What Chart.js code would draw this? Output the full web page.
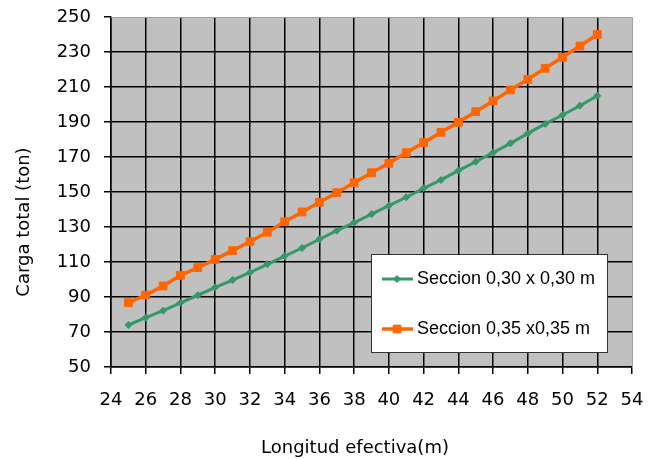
<!DOCTYPE html>
<html>
<head>
<meta charset="utf-8">
<title>Carga total vs longitud efectiva</title>
<script src="https://cdn.jsdelivr.net/npm/chart.js@4.4.0/dist/chart.umd.min.js"></script>
<style>
  html, body { margin: 0; padding: 0; background: #fff; }
</style>
</head>
<body>
<canvas id="cargaChart" width="652" height="459"></canvas>
<script>
// Longitud efectiva (m)
const lengths = [25, 26, 27, 28, 29, 30, 31, 32, 33, 34, 35, 36, 37, 38,
  39, 40, 41, 42, 43, 44, 45, 46, 47, 48, 49, 50, 51, 52];

// Carga total (ton) por seccion
const seccion30 = [74.0, 78.2, 82.2, 86.7, 91.0, 95.5, 99.7, 104.0, 108.7, 113.4,
  118.0, 123.0, 127.9, 132.5, 137.3, 142.2, 147.0, 152.1, 156.9, 162.2,
  167.3, 172.5, 177.8, 183.5, 188.9, 194.0, 199.3, 205.0];
const seccion35 = [86.7, 91.1, 96.3, 102.4, 106.8, 111.5, 116.5, 121.6, 127.0, 133.0,
  138.6, 144.1, 149.6, 155.3, 161.0, 166.4, 172.5, 178.2, 184.1, 189.8,
  195.9, 202.0, 208.3, 214.4, 220.7, 227.0, 233.4, 240.0];

const seriesNames = ["Seccion 0,30 x 0,30 m", "Seccion 0,35 x0,35 m"];

const xTicks = { min: 24, max: 54, step: 2 };
const yTicks = { min: 50, max: 250, step: 20 };

const xTitle = "Longitud efectiva(m)";
const yTitle = "Carga total (ton)";

const GREEN = "#339966";
const ORANGE = "#ff6600";
const AXIS_FONT = "DejaVu Sans";
const LEGEND_FONT = "Liberation Sans";

function toPoints(values) {
  return lengths.map((x, i) => ({ x: x, y: values[i] }));
}

// gray plot background
const plotBackground = {
  id: "plotBackground",
  beforeDraw(chart) {
    const { ctx, chartArea: a } = chart;
    ctx.save();
    ctx.fillStyle = "#c0c0c0";
    ctx.fillRect(a.left, a.top, a.right - a.left, a.bottom - a.top);
    ctx.restore();
  },
};

// light frame on the top and right side of the plot
const plotFrame = {
  id: "plotFrame",
  beforeDatasetsDraw(chart) {
    const { ctx, chartArea: a } = chart;
    ctx.save();
    ctx.strokeStyle = "#a0a0a0";
    ctx.lineWidth = 1;
    ctx.beginPath();
    ctx.moveTo(a.left, a.top + 0.5);
    ctx.lineTo(a.right + 0.5, a.top + 0.5);
    ctx.lineTo(a.right + 0.5, a.bottom);
    ctx.stroke();
    ctx.restore();
  },
};

// axis titles
const axisTitles = {
  id: "axisTitles",
  afterDraw(chart) {
    const { ctx } = chart;
    ctx.save();
    ctx.fillStyle = "#000";
    ctx.font = "18px '" + AXIS_FONT + "'";
    ctx.textAlign = "center";
    ctx.textBaseline = "alphabetic";
    ctx.fillText(xTitle, 355, 453);

    ctx.translate(29, 222);
    ctx.rotate(-Math.PI / 2);
    ctx.fillText(yTitle, 0, 0);
    ctx.restore();
  },
};

// boxed legend inside the plot area
const legendBox = {
  id: "legendBox",
  afterDraw(chart) {
    const { ctx } = chart;
    const box = { x: 371, y: 254, w: 236, h: 98 };
    ctx.save();
    ctx.fillStyle = "#fff";
    ctx.fillRect(box.x, box.y, box.w, box.h);
    ctx.strokeStyle = "#333";
    ctx.lineWidth = 1;
    ctx.strokeRect(box.x + 0.5, box.y + 0.5, box.w, box.h);

    const rows = [279, 329];
    chart.data.datasets.forEach((ds, i) => {
      const y = rows[i];
      ctx.strokeStyle = ds.borderColor;
      ctx.lineWidth = ds.borderWidth;
      ctx.beginPath();
      ctx.moveTo(382, y);
      ctx.lineTo(413, y);
      ctx.stroke();

      ctx.fillStyle = ds.pointBackgroundColor;
      ctx.strokeStyle = ds.pointBorderColor;
      ctx.lineWidth = ds.pointBorderWidth;
      Chart.helpers.drawPoint(ctx, {
        pointStyle: ds.pointStyle,
        radius: ds.pointRadius,
        borderWidth: ds.pointBorderWidth,
        rotation: 0,
      }, 397, y);

      ctx.fillStyle = "#000";
      ctx.font = "18px '" + LEGEND_FONT + "'";
      ctx.textAlign = "left";
      ctx.textBaseline = "middle";
      ctx.fillText(ds.label, 417, y);
    });
    ctx.restore();
  },
};

function gridColor(max) {
  return (c) => (c.tick && c.tick.value === max ? "rgba(0,0,0,0)" : "#000");
}

const ctx = document.getElementById("cargaChart").getContext("2d");

new Chart(ctx, {
  type: "line",
  data: {
    datasets: [
      {
        label: seriesNames[0],
        data: toPoints(seccion30),
        borderColor: GREEN,
        backgroundColor: GREEN,
        pointBackgroundColor: GREEN,
        pointBorderColor: GREEN,
        borderWidth: 3,
        pointStyle: "rectRot",
        pointRadius: 3.5,
        pointBorderWidth: 1,
        tension: 0,
      },
      {
        label: seriesNames[1],
        data: toPoints(seccion35),
        borderColor: ORANGE,
        backgroundColor: ORANGE,
        pointBackgroundColor: ORANGE,
        pointBorderColor: ORANGE,
        borderWidth: 3.5,
        pointStyle: "rect",
        pointRadius: 5.5,
        pointBorderWidth: 1,
        tension: 0,
      },
    ],
  },
  options: {
    responsive: false,
    animation: false,
    layout: {
      padding: { top: 17, right: 20, left: 0, bottom: 0 },
    },
    plugins: {
      legend: { display: false },
      tooltip: { enabled: false },
    },
    scales: {
      x: {
        type: "linear",
        min: xTicks.min,
        max: xTicks.max,
        afterFit(scale) {
          scale.height = 92;
          scale.paddingLeft = 0;
          scale.paddingRight = 0;
        },
        ticks: {
          stepSize: xTicks.step,
          color: "#000",
          padding: 16,
          maxRotation: 0,
          font: { family: AXIS_FONT, size: 18 },
        },
        grid: {
          color: gridColor(xTicks.max),
          tickColor: "#000",
          lineWidth: 1.5,
          tickLength: 7,
        },
        border: { display: true, color: "#000", width: 1.5 },
      },
      y: {
        min: yTicks.min,
        max: yTicks.max,
        afterFit(scale) {
          scale.width = 111;
          scale.paddingTop = 0;
          scale.paddingBottom = 0;
        },
        ticks: {
          stepSize: yTicks.step,
          color: "#000",
          padding: 13,
          font: { family: AXIS_FONT, size: 18 },
        },
        grid: {
          color: gridColor(yTicks.max),
          tickColor: "#000",
          lineWidth: 1.5,
          tickLength: 7,
        },
        border: { display: true, color: "#000", width: 1.5 },
      },
    },
  },
  plugins: [plotBackground, plotFrame, axisTitles, legendBox],
});
</script>
</body>
</html>
